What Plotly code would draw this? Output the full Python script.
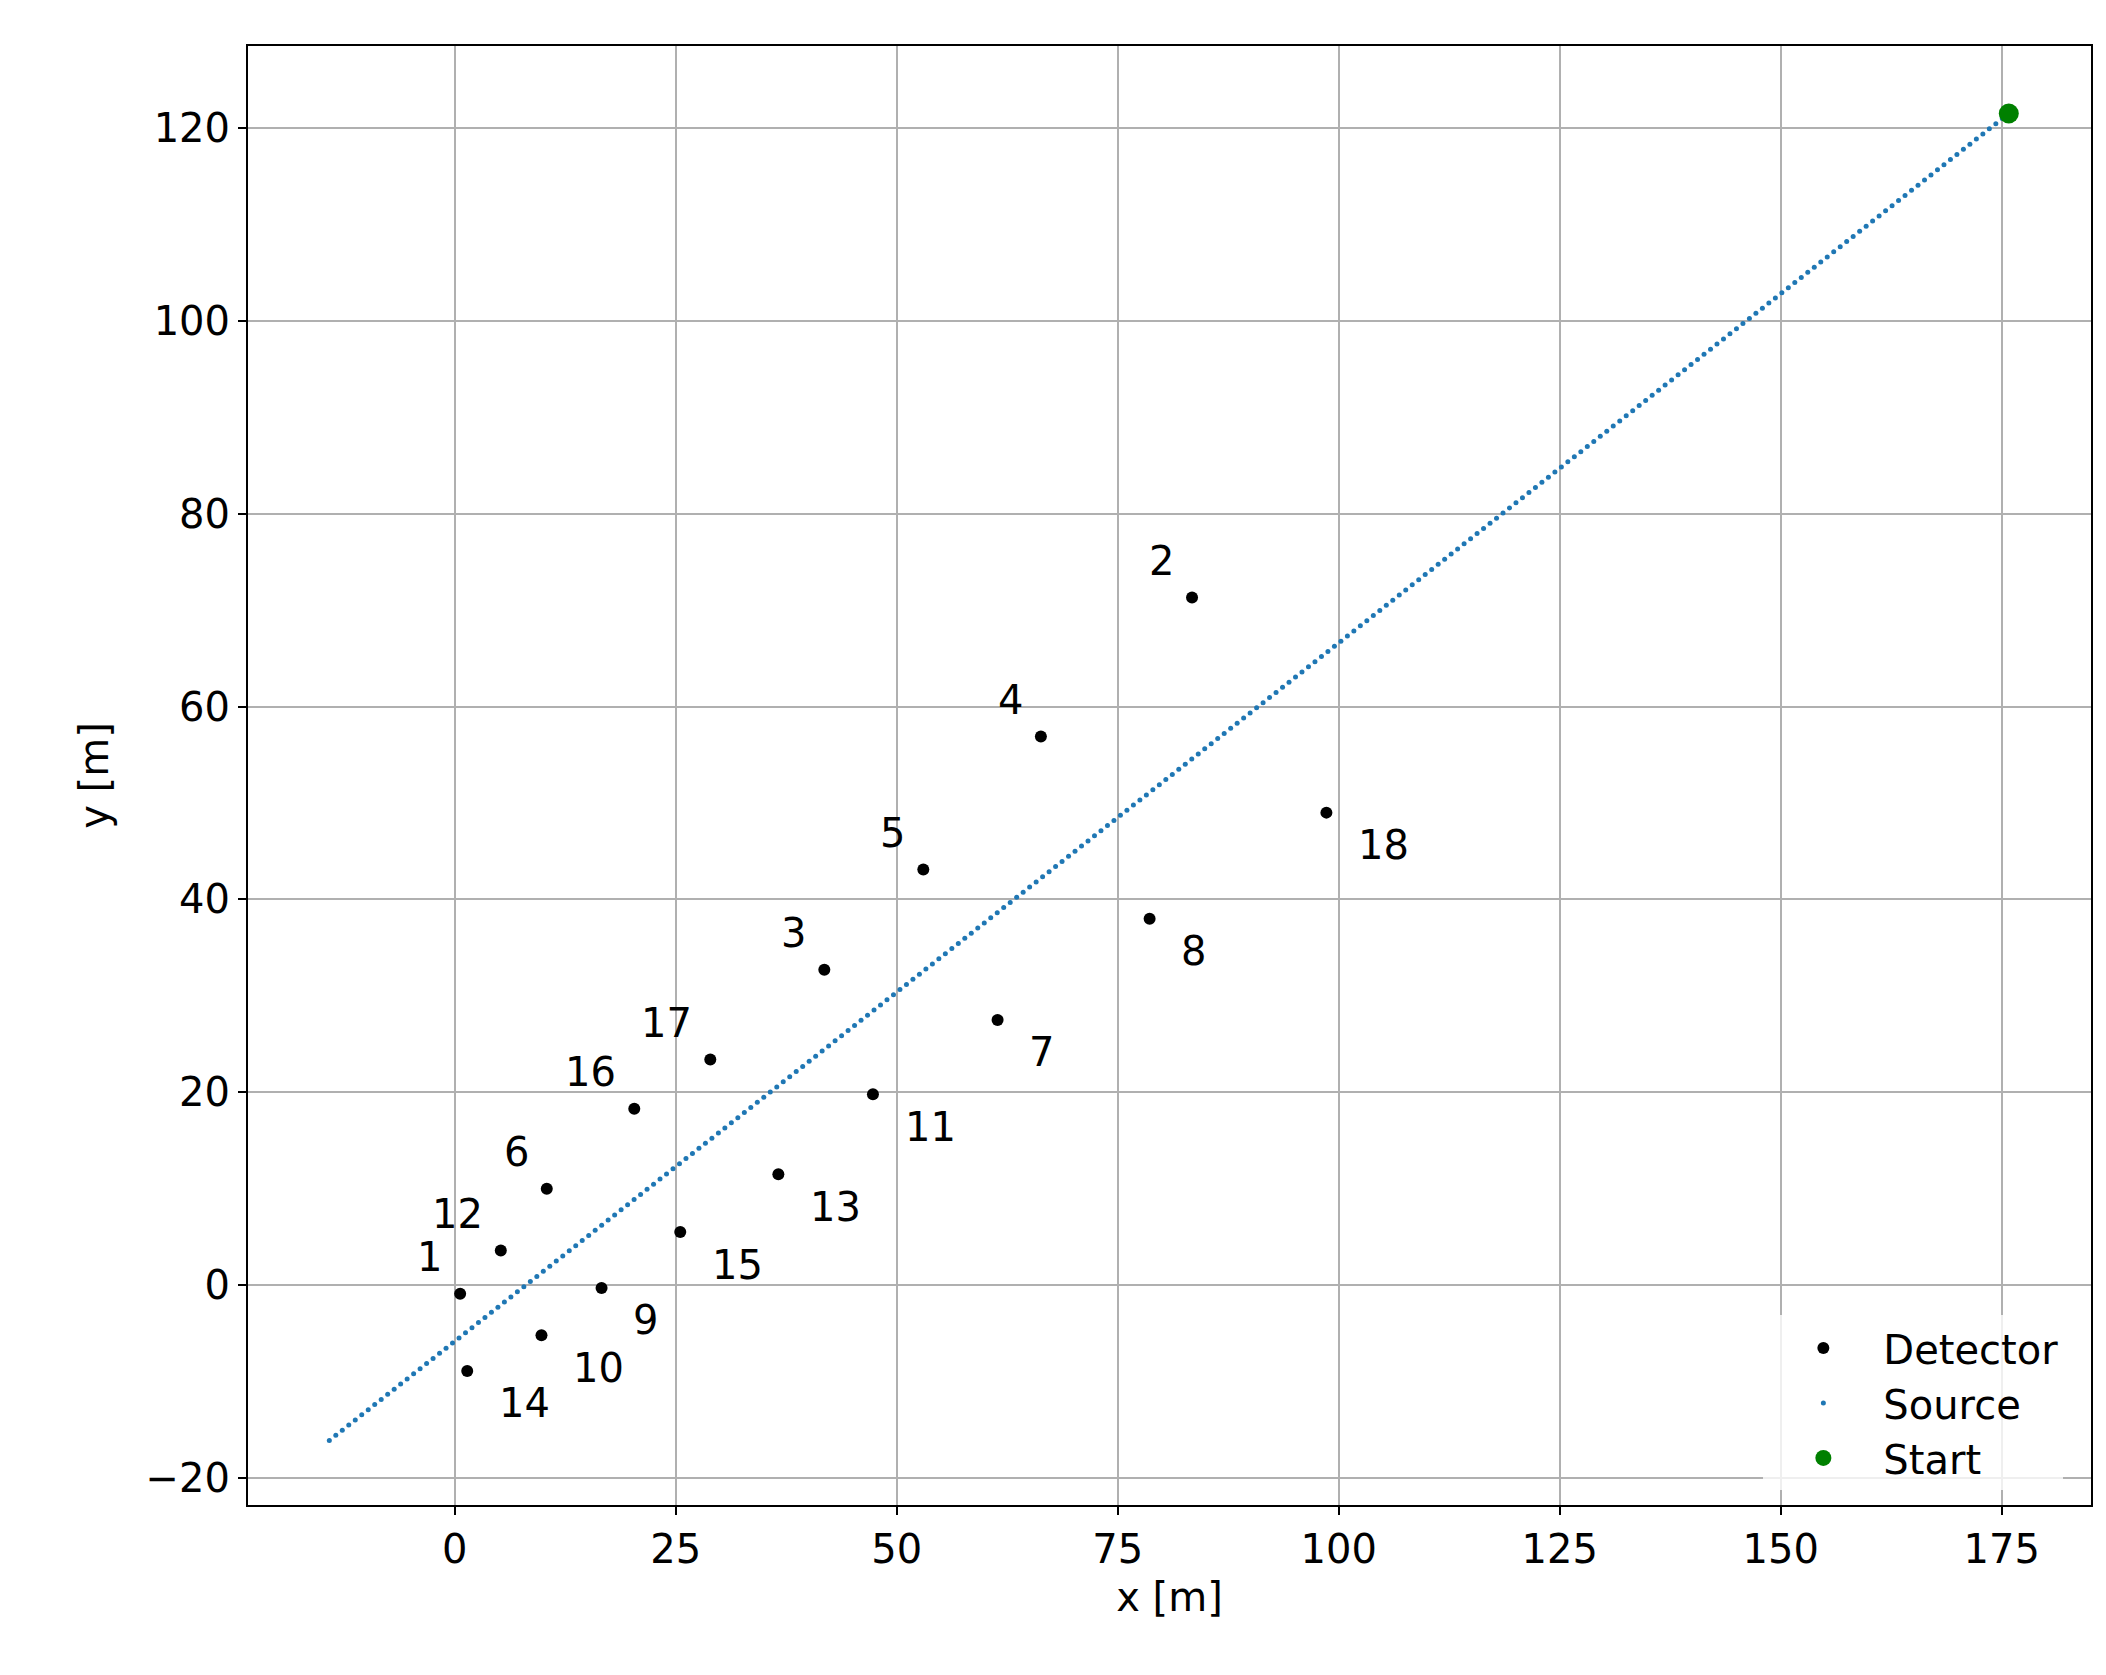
import numpy as np
import plotly.graph_objects as go

det_id = [str(i) for i in range(1, 19)]
det_x = [0.6, 83.4, 41.8, 66.3, 53.0, 10.4, 61.4, 78.6, 16.6, 9.8, 47.3, 5.2, 36.6, 1.4, 25.5, 20.3, 28.9, 98.6]
det_y = [-0.9, 71.3, 32.7, 56.9, 43.1, 10.0, 27.5, 38.0, -0.3, -5.2, 19.8, 3.6, 11.5, -8.9, 5.5, 18.3, 23.4, 49.0]
label_pos = ["ul", "ul", "ul", "ul", "ul", "ul", "br", "br", "br", "br", "br", "ul", "br", "br", "br", "ul", "ul", "br"]

src_start = (175.8, 121.5)
src_end = (-14.2, -16.1)
n_src = 260
src_x = np.linspace(src_start[0], src_end[0], n_src)
src_y = np.linspace(src_start[1], src_end[1], n_src)

F = "DejaVu Sans"
FS = 40
fig = go.Figure()
fig.add_trace(go.Scatter(x=det_x, y=det_y, mode="markers", name="Detector",
                         marker=dict(color="black", size=12)))
fig.add_trace(go.Scatter(x=src_x, y=src_y, mode="markers", name="Source",
                         marker=dict(color="#1f77b4", size=5)))
fig.add_trace(go.Scatter(x=[src_start[0]], y=[src_start[1]], mode="markers", name="Start",
                         marker=dict(color="green", size=20)))

s = 1.35
for t, x, y, p in zip(det_id, det_x, det_y, label_pos):
    if p == "ul":
        fig.add_annotation(x=x, y=y, text=t, showarrow=False, xanchor="right", yanchor="middle",
                           xshift=-12 * s, yshift=27 * s, font=dict(size=FS, color="black", family=F))
    else:
        fig.add_annotation(x=x, y=y, text=t, showarrow=False, xanchor="left", yanchor="middle",
                           xshift=22 * s, yshift=-24 * s, font=dict(size=FS, color="black", family=F))

ax = dict(showgrid=True, gridcolor="#b0b0b0", gridwidth=2, zeroline=False,
          showline=True, linecolor="black", linewidth=2, mirror=True,
          ticks="outside", ticklen=8, tickwidth=2, tickcolor="black",
          tickfont=dict(size=FS, family=F, color="black"))
fig.update_xaxes(**ax, range=[-23.4, 185.1], tickvals=[0, 25, 50, 75, 100, 125, 150, 175],
                 title=dict(text="x [m]", font=dict(size=FS, family=F, color="black"), standoff=12))
fig.update_yaxes(**ax, range=[-22.8, 128.5], tickvals=[-20, 0, 20, 40, 60, 80, 100, 120],
                 ticktext=["−20", "0", "20", "40", "60", "80", "100", "120"],
                 title=dict(text="y [m]", font=dict(size=FS, family=F, color="black"), standoff=25))
fig.update_layout(width=2106, height=1675, plot_bgcolor="white", paper_bgcolor="white",
                  margin=dict(l=240, r=23, t=38, b=178),
                  legend=dict(x=0.985, y=0.01, xanchor="right", yanchor="bottom",
                              bgcolor="rgba(255,255,255,0.8)", font=dict(size=FS, family=F, color="black"),
                              itemwidth=110, tracegroupgap=14),
                  showlegend=True)
fig.write_html("out.html")
